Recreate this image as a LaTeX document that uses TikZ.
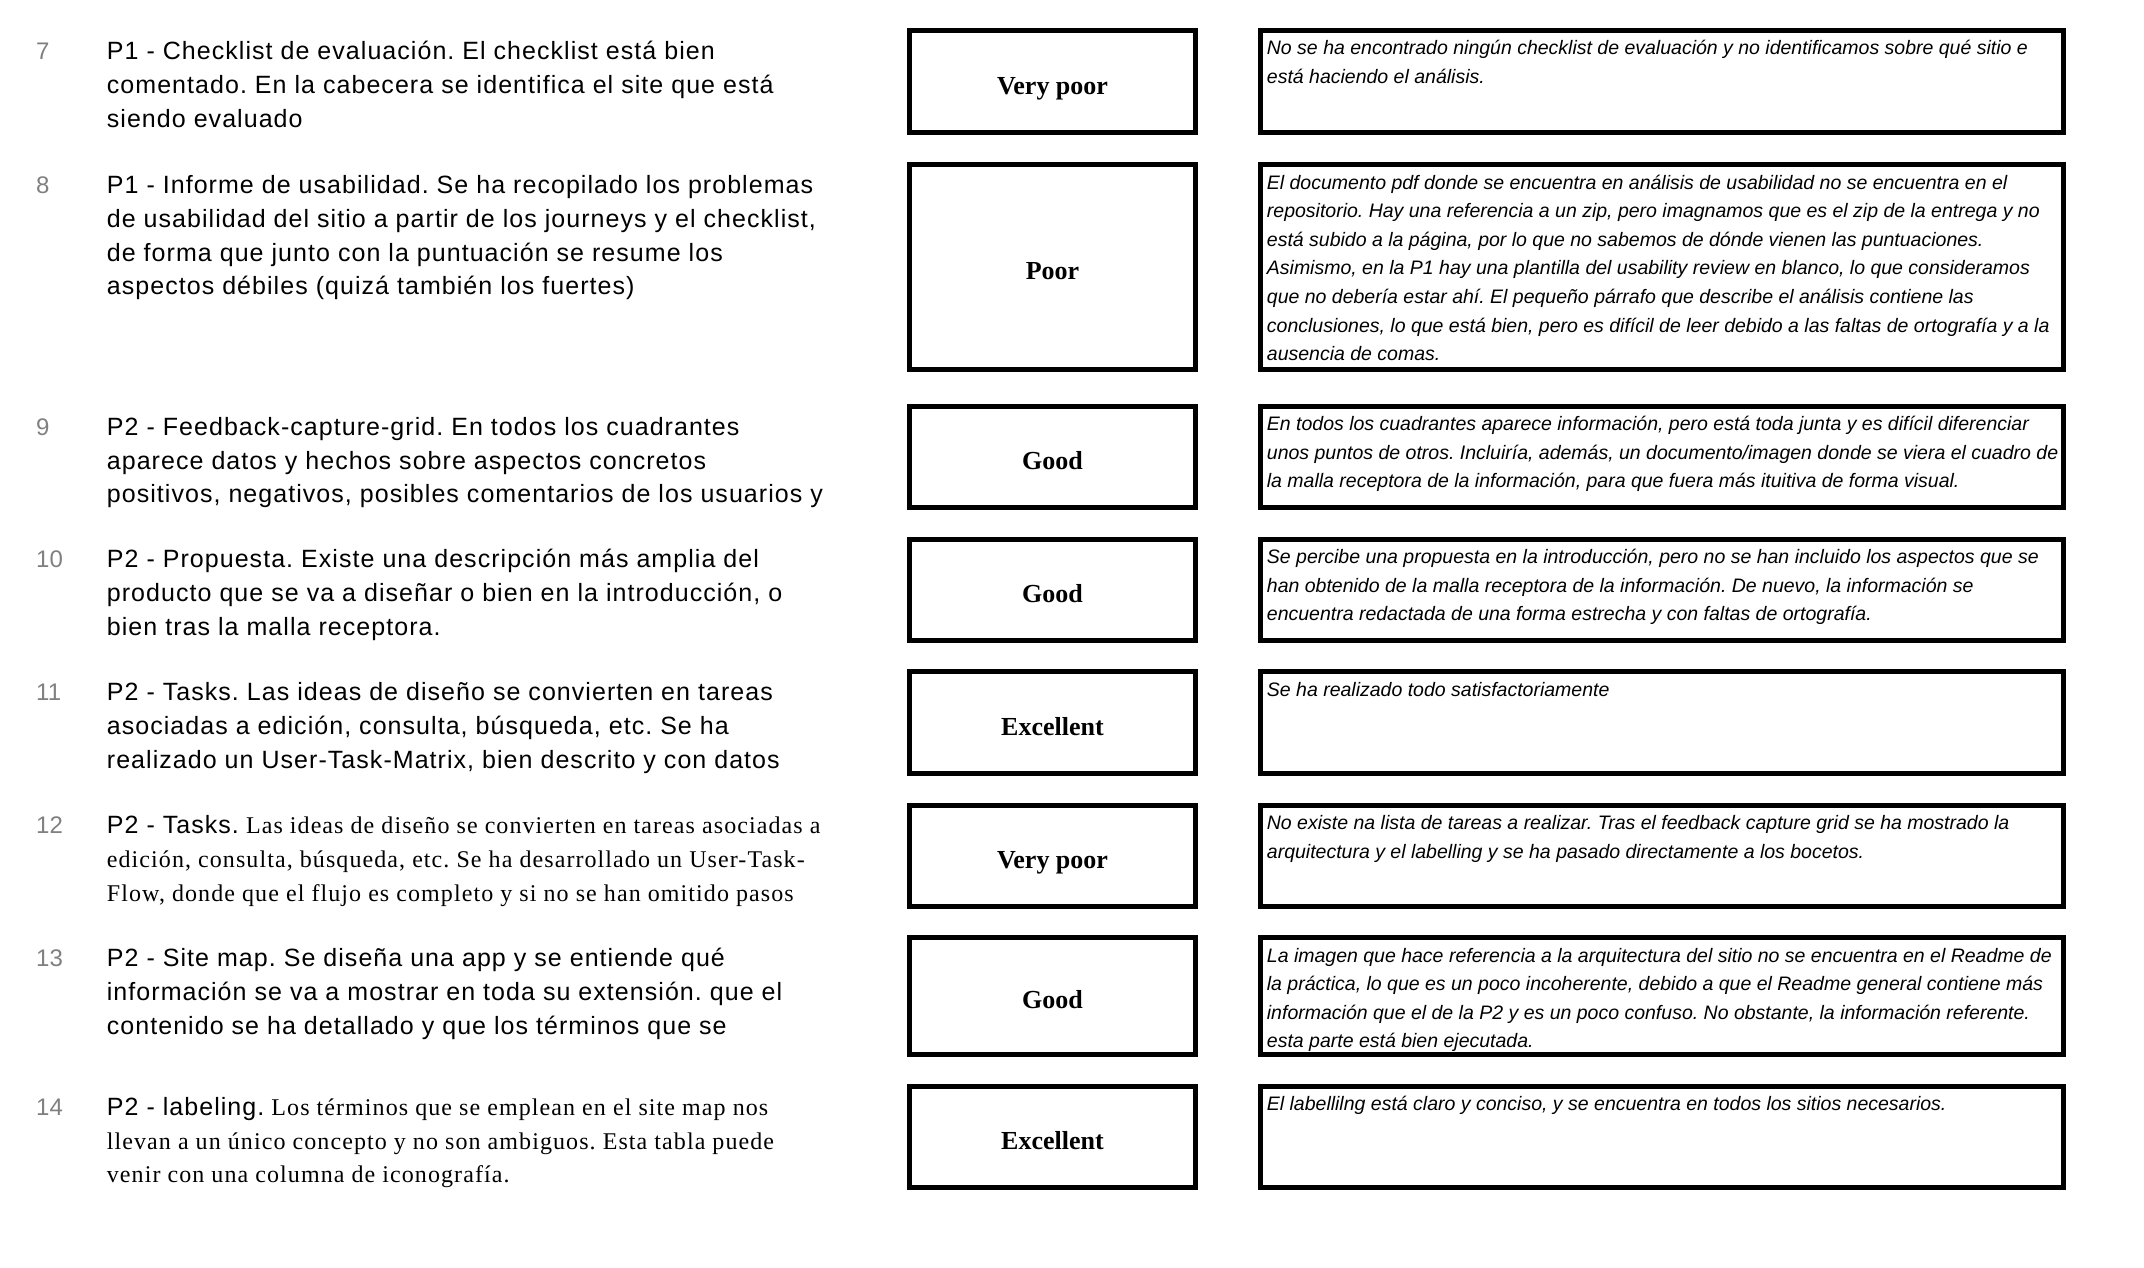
\documentclass[tikz,border=0pt]{standalone}
\usepackage{fontspec}
\setmainfont{Liberation Sans}
\newfontfamily\lsans[LetterSpace=4.2]{Liberation Sans}
\newfontfamily\serifrm{Liberation Serif}
\newfontfamily\lserif[LetterSpace=4.5]{Liberation Serif}
\definecolor{numgray}{RGB}{128,128,128}
\newcommand\lstr{\rule{0pt}{22pt}}
\newcommand\rstr{\rule{0pt}{19pt}}
\newcommand\srf[1]{{\lserif\fontsize{24}{33.8}\selectfont #1}}
\tikzset{
  boxframe/.style={draw=black, line width=5pt, inner sep=0pt},
  midbox/.style={boxframe, minimum width=286pt},
  rbox/.style={boxframe, minimum width=802.7pt},
  lbl/.style={anchor=base, inner sep=0pt, font=\serifrm\bfseries\fontsize{26}{30}\selectfont},
  ltext/.style={anchor=north west, inner sep=0pt, align=left,
    font=\lsans\fontsize{25}{33.8}\selectfont},
  rtext/.style={anchor=north west, inner sep=0pt, align=left,
    font=\itshape\fontsize{19.5}{28.6}\selectfont},
  numtext/.style={anchor=north west, inner sep=0pt, text=numgray,
    font=\fontsize{24}{33.8}\selectfont},
}
\begin{document}
\frenchspacing
\begin{tikzpicture}[x={(1pt,0pt)}, y={(0pt,-1pt)}]
\useasboundingbox (0,0) rectangle (2144,1268);

% ---- row 7
\node[numtext] (n7) at (36,37.3) {\lstr 7};
\node[ltext] (l7) at (106.7,37.3) {\lstr P1 - Checklist de evaluación. El checklist está bien\\
comentado. En la cabecera se identifica el site que está\\
siendo evaluado};
\node[midbox, minimum height=101.7pt] (m7) at (1052.5,81.65) {};
\node[lbl] (t7) at ([yshift=-12.5pt]m7.center) {Very poor};
\node[rbox, minimum height=101.7pt] (b7) at (1662.2,81.65) {};
\node[rtext] (c7) at (1266.7,35.8) {\rstr No se ha encontrado ningún checklist de evaluación y no identificamos sobre qué sitio e\\
está haciendo el análisis.};

% ---- row 8
\node[numtext] (n8) at (36,171.3) {\lstr 8};
\node[ltext] (l8) at (106.7,171.3) {\lstr P1 - Informe de usabilidad. Se ha recopilado los problemas\\
de usabilidad del sitio a partir de los journeys y el checklist,\\
de forma que junto con la puntuación se resume los\\
aspectos débiles (quizá también los fuertes)};
\node[midbox, minimum height=205pt] (m8) at (1052.5,267.3) {};
\node[lbl] (t8) at ([yshift=-12.5pt]m8.center) {Poor};
\node[rbox, minimum height=205pt] (b8) at (1662.2,267.3) {};
\node[rtext] (c8) at (1266.7,169.8) {\rstr El documento pdf donde se encuentra en análisis de usabilidad no se encuentra en el\\
repositorio. Hay una referencia a un zip, pero imagnamos que es el zip de la entrega y no\\
está subido a la página, por lo que no sabemos de dónde vienen las puntuaciones.\\
Asimismo, en la P1 hay una plantilla del usability review en blanco, lo que consideramos\\
que no debería estar ahí. El pequeño párrafo que describe el análisis contiene las\\
conclusiones, lo que está bien, pero es difícil de leer debido a las faltas de ortografía y a la\\
ausencia de comas.};

% ---- row 9
\node[numtext] (n9) at (36,413) {\lstr 9};
\node[ltext] (l9) at (106.7,413) {\lstr P2 - Feedback-capture-grid. En todos los cuadrantes\\
aparece datos y hechos sobre aspectos concretos\\
positivos, negativos, posibles comentarios de los usuarios y};
\node[midbox, minimum height=101pt] (m9) at (1052.5,457) {};
\node[lbl] (t9) at ([yshift=-12.5pt]m9.center) {Good};
\node[rbox, minimum height=101pt] (b9) at (1662.2,457) {};
\node[rtext] (c9) at (1266.7,411.5) {\rstr En todos los cuadrantes aparece información, pero está toda junta y es difícil diferenciar\\
unos puntos de otros. Incluiría, además, un documento/imagen donde se viera el cuadro de\\
la malla receptora de la información, para que fuera más ituitiva de forma visual.};

% ---- row 10
\node[numtext] (n10) at (36,545.7) {\lstr 10};
\node[ltext] (l10) at (106.7,545.7) {\lstr P2 - Propuesta. Existe una descripción más amplia del\\
producto que se va a diseñar o bien en la introducción, o\\
bien tras la malla receptora.};
\node[midbox, minimum height=101.6pt] (m10) at (1052.5,590) {};
\node[lbl] (t10) at ([yshift=-12.5pt]m10.center) {Good};
\node[rbox, minimum height=101.6pt] (b10) at (1662.2,590) {};
\node[rtext] (c10) at (1266.7,544.2) {\rstr Se percibe una propuesta en la introducción, pero no se han incluido los aspectos que se\\
han obtenido de la malla receptora de la información. De nuevo, la información se\\
encuentra redactada de una forma estrecha y con faltas de ortografía.};

% ---- row 11
\node[numtext] (n11) at (36,678.3) {\lstr 11};
\node[ltext] (l11) at (106.7,678.3) {\lstr P2 - Tasks. Las ideas de diseño se convierten en tareas\\
asociadas a edición, consulta, búsqueda, etc. Se ha\\
realizado un User-Task-Matrix, bien descrito y con datos};
\node[midbox, minimum height=101.7pt] (m11) at (1052.5,722.65) {};
\node[lbl] (t11) at ([yshift=-12.5pt]m11.center) {Excellent};
\node[rbox, minimum height=101.7pt] (b11) at (1662.2,722.65) {};
\node[rtext] (c11) at (1266.7,676.8) {\rstr Se ha realizado todo satisfactoriamente};

% ---- row 12
\node[numtext] (n12) at (36,811.7) {\lstr 12};
\node[ltext] (l12) at (106.7,811.7) {\lstr P2 - Tasks.\srf{ Las ideas de diseño se convierten en tareas asociadas a}\\
\srf{edición, consulta, búsqueda, etc. Se ha desarrollado un User-Task-}\\
\srf{Flow, donde que el flujo es completo y si no se han omitido pasos}};
\node[midbox, minimum height=101.3pt] (m12) at (1052.5,855.85) {};
\node[lbl] (t12) at ([yshift=-12.5pt]m12.center) {Very poor};
\node[rbox, minimum height=101.3pt] (b12) at (1662.2,855.85) {};
\node[rtext] (c12) at (1266.7,810.2) {\rstr No existe na lista de tareas a realizar. Tras el feedback capture grid se ha mostrado la\\
arquitectura y el labelling y se ha pasado directamente a los bocetos.};

% ---- row 13
\node[numtext] (n13) at (36,944.3) {\lstr 13};
\node[ltext] (l13) at (106.7,944.3) {\lstr P2 - Site map. Se diseña una app y se entiende qué\\
información se va a mostrar en toda su extensión. que el\\
contenido se ha detallado y que los términos que se};
\node[midbox, minimum height=117pt] (m13) at (1052.5,996.3) {};
\node[lbl] (t13) at ([yshift=-12.5pt]m13.center) {Good};
\node[rbox, minimum height=117pt] (b13) at (1662.2,996.3) {};
\node[rtext] (c13) at (1266.7,942.8) {\rstr La imagen que hace referencia a la arquitectura del sitio no se encuentra en el Readme de\\
la práctica, lo que es un poco incoherente, debido a que el Readme general contiene más\\
información que el de la P2 y es un poco confuso. No obstante, la información referente.\\
esta parte está bien ejecutada.};

% ---- row 14
\node[numtext] (n14) at (36,1093) {\lstr 14};
\node[ltext] (l14) at (106.7,1093) {\lstr P2 - labeling.\srf{ Los términos que se emplean en el site map nos}\\
\srf{llevan a un único concepto y no son ambiguos. Esta tabla puede}\\
\srf{venir con una columna de iconografía.}};
\node[midbox, minimum height=101pt] (m14) at (1052.5,1137) {};
\node[lbl] (t14) at ([yshift=-12.5pt]m14.center) {Excellent};
\node[rbox, minimum height=101pt] (b14) at (1662.2,1137) {};
\node[rtext] (c14) at (1266.7,1091.5) {\rstr El labellilng está claro y conciso, y se encuentra en todos los sitios necesarios.};
\end{tikzpicture}
\end{document}
